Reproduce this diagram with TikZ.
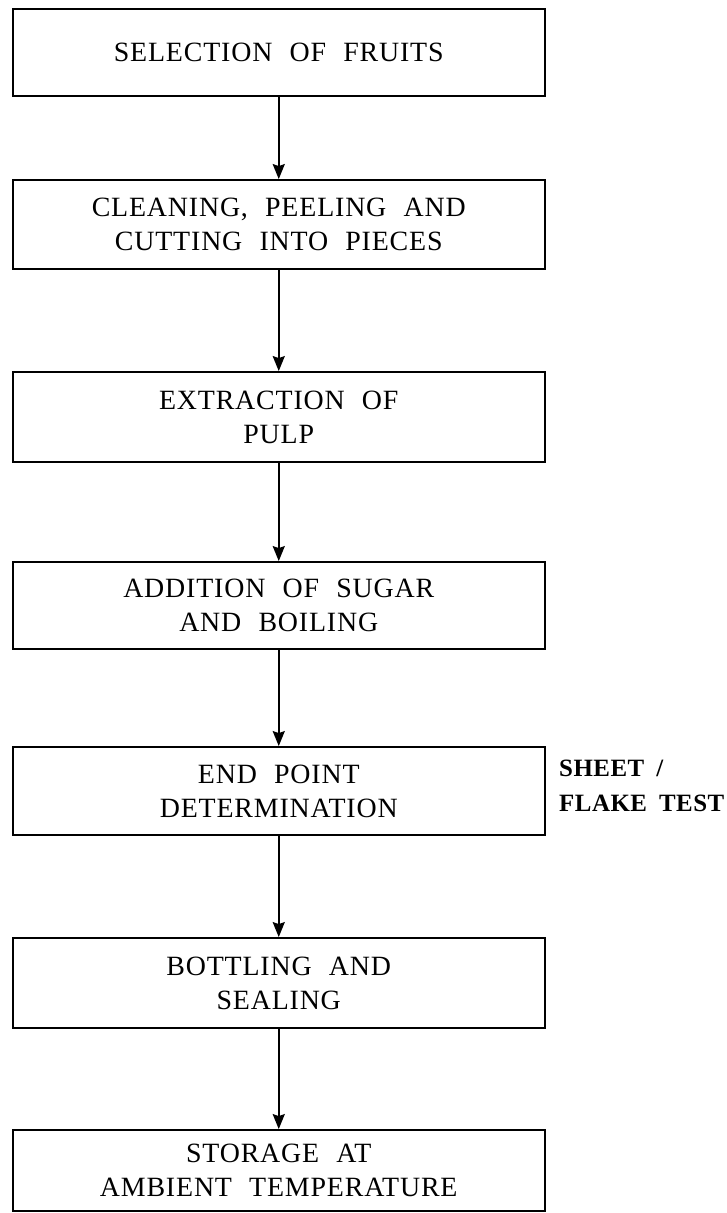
\documentclass[tikz,border=0pt]{standalone}
\usepackage{fontspec}
\setmainfont{Liberation Serif}[LetterSpace=3,WordSpace=2.2]
\newfontfamily\sidefont{Liberation Serif}[LetterSpace=2,WordSpace=1.8]
\usetikzlibrary{arrows.meta}
\begin{document}
\begin{tikzpicture}[x=1bp,y=-1bp,
  stepbox/.style={draw, line width=1.8bp, minimum width=532bp, inner sep=0pt,
    align=center, font=\fontsize{28}{34}\selectfont},
  arr/.style={line width=2bp, -{Stealth[length=15bp,width=12bp,inset=2bp]}},
  sidetext/.style={anchor=west, align=left, inner sep=0pt,
    font=\sidefont\bfseries\fontsize{25}{35}\selectfont}]
\useasboundingbox (0,0) rectangle (727,1213);
\node[stepbox, minimum height=87bp] (b1) at (278.75,52.5) {SELECTION OF FRUITS};
\node[stepbox, minimum height=89bp] (b2) at (278.75,224.5) {CLEANING, PEELING AND\\CUTTING INTO PIECES};
\node[stepbox, minimum height=90bp] (b3) at (278.75,417) {EXTRACTION OF\\PULP};
\node[stepbox, minimum height=87bp] (b4) at (278.75,605.5) {ADDITION OF SUGAR\\AND BOILING};
\node[stepbox, minimum height=88bp] (b5) at (278.75,791) {END POINT\\DETERMINATION};
\node[stepbox, minimum height=90bp] (b6) at (278.75,983) {BOTTLING AND\\SEALING};
\node[stepbox, minimum height=81bp] (b7) at (278.75,1170.5) {STORAGE AT\\AMBIENT TEMPERATURE};
\node[sidetext] (side) at (559,786) {SHEET /\\FLAKE TEST};
\draw[arr] (b1) -- (b2);
\draw[arr] (b2) -- (b3);
\draw[arr] (b3) -- (b4);
\draw[arr] (b4) -- (b5);
\draw[arr] (b5) -- (b6);
\draw[arr] (b6) -- (b7);
\end{tikzpicture}
\end{document}
